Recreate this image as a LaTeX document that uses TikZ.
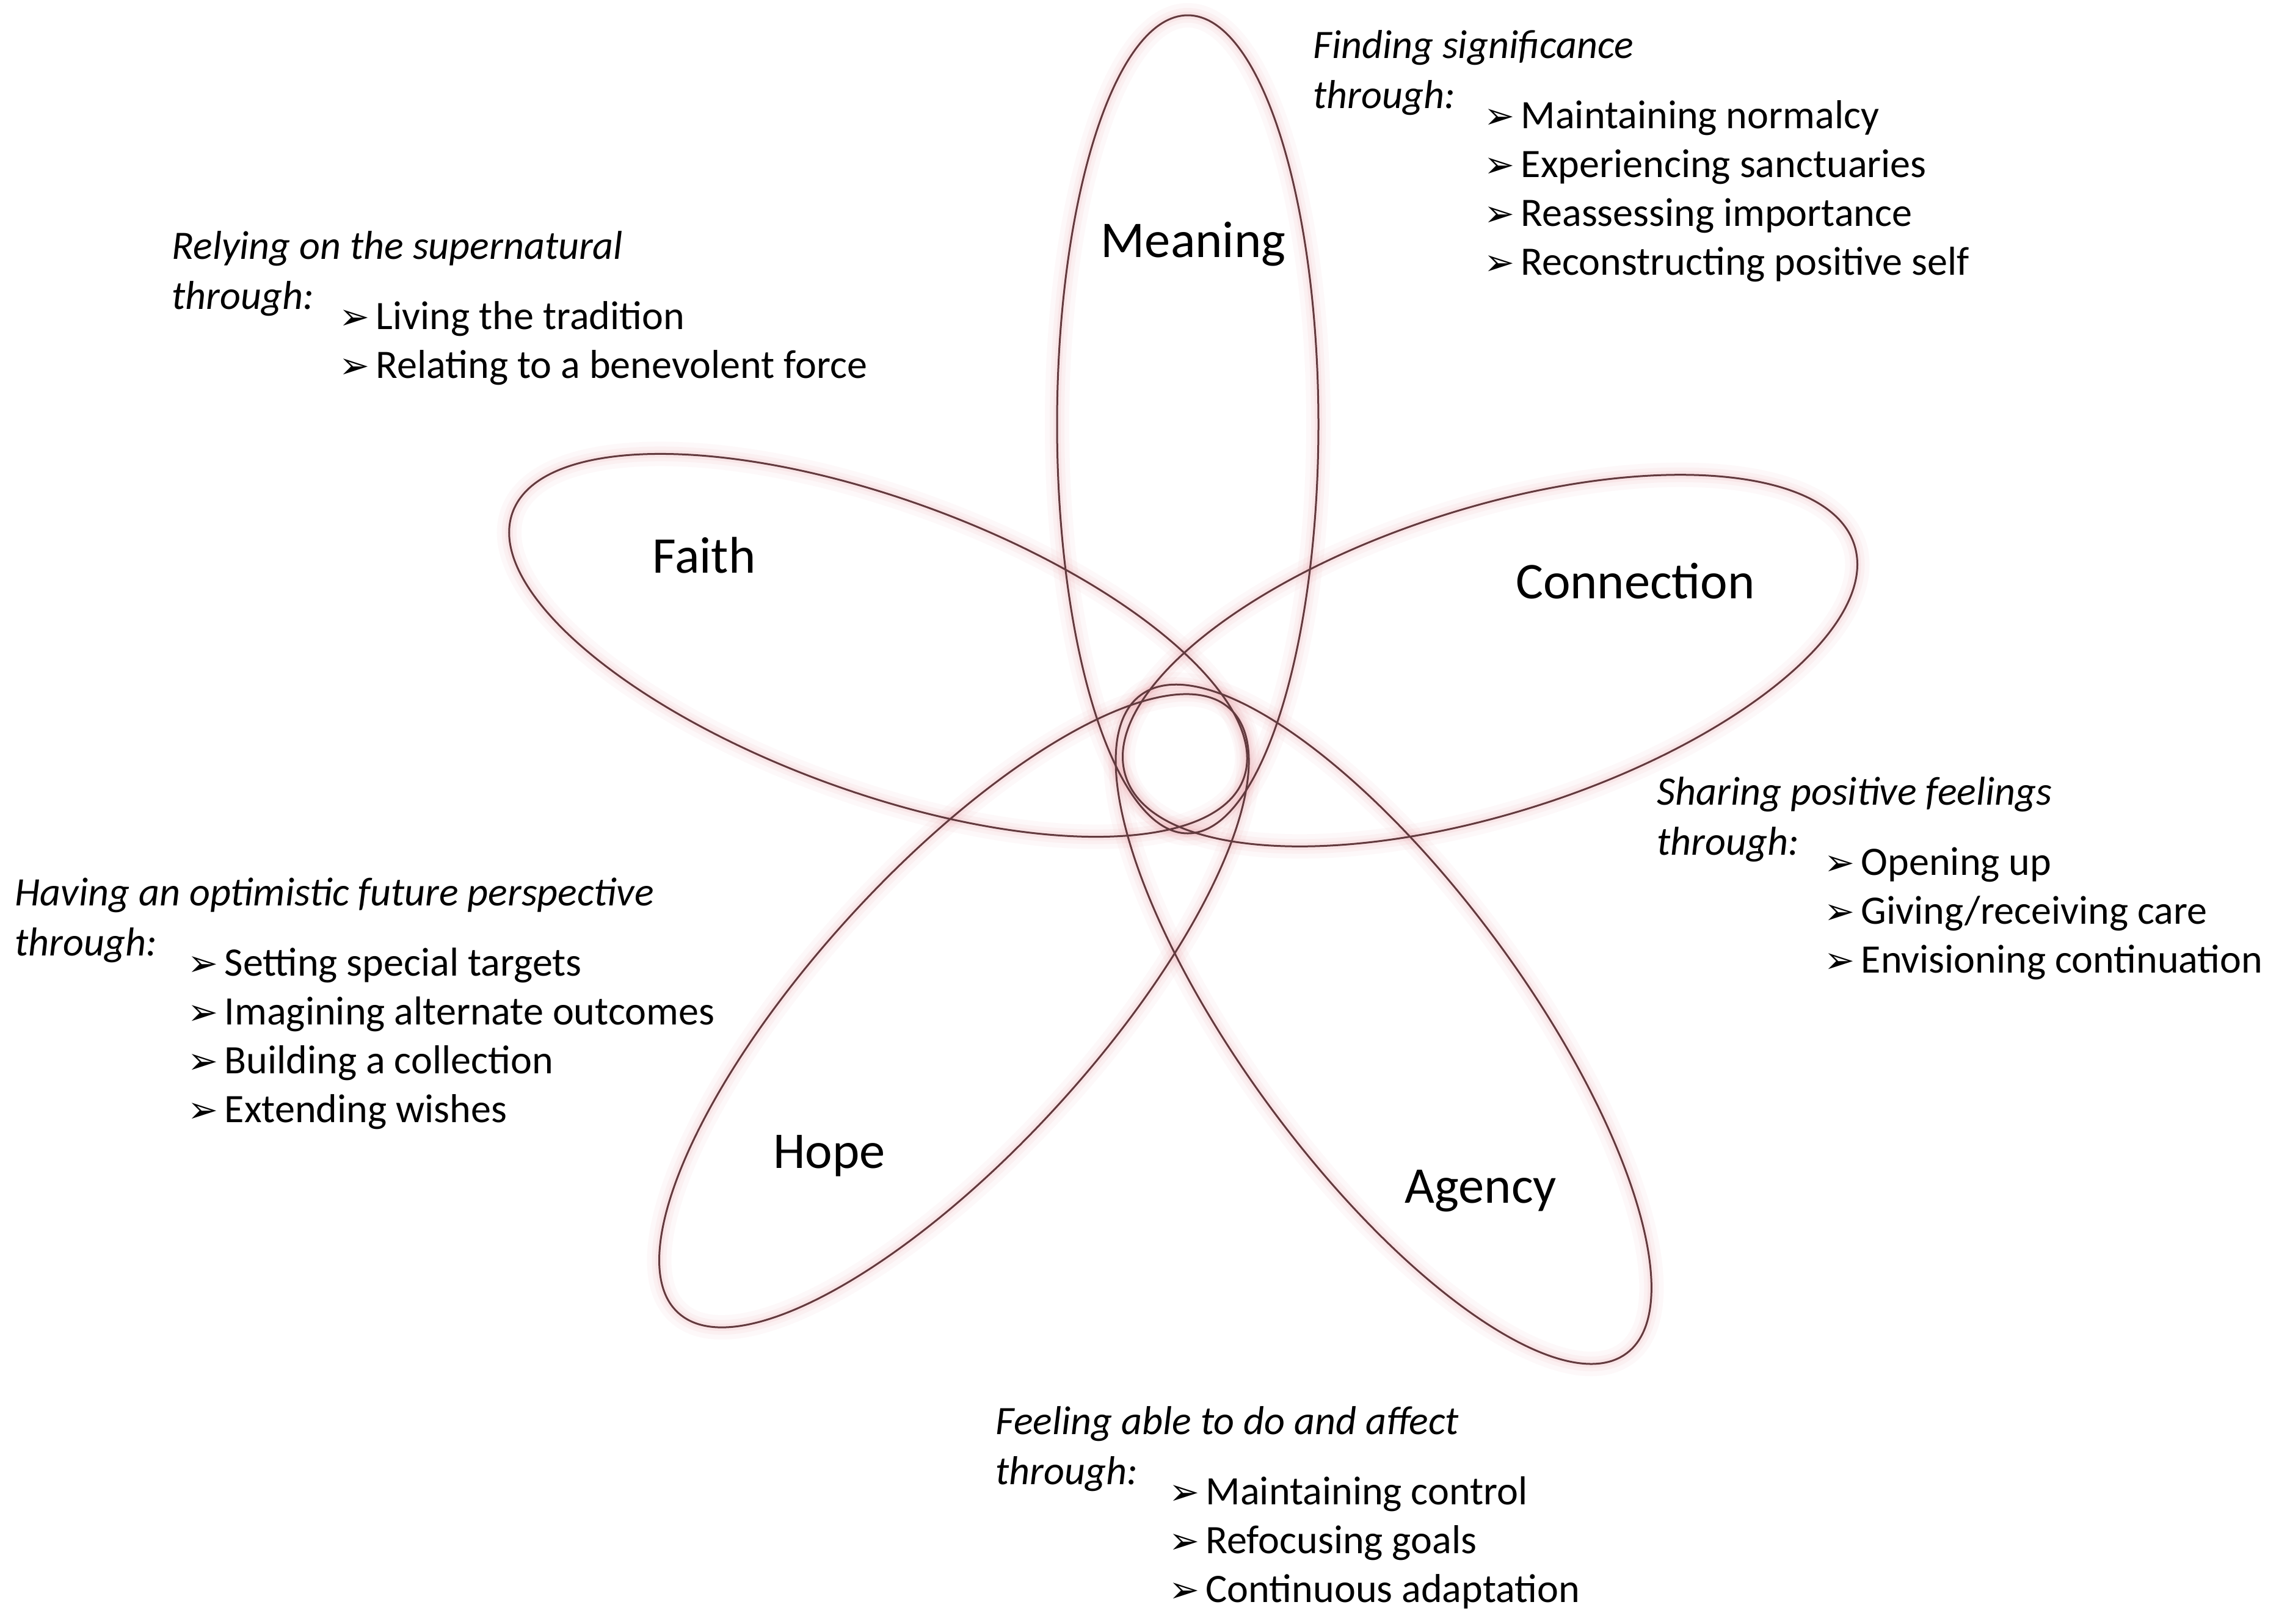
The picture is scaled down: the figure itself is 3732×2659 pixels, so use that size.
\documentclass[tikz,border=0pt]{standalone}
\usepackage{fontspec}
\setmainfont{Carlito}
\newfontfamily\dejavu{DejaVu Sans}
\definecolor{petalline}{RGB}{98,58,62}
\definecolor{petalglow}{RGB}{228,112,122}
\newcommand{\bul}{\makebox[0.6cm][l]{\dejavu\fontsize{17}{17}\selectfont ➢}}
\begin{document}
\begin{tikzpicture}[x=0.01cm,y=-0.01cm,
  petal/.style={draw=petalline, line width=0.03cm},
  glowa/.style={draw=petalglow, line width=0.40cm, draw opacity=0.045},
  glowb/.style={draw=petalglow, line width=0.24cm, draw opacity=0.06},
  glowc/.style={draw=petalglow, line width=0.12cm, draw opacity=0.08},
  plabel/.style={font=\fontsize{24}{29}\selectfont, inner sep=0pt, anchor=base},
  head/.style={font=\fontsize{18.8}{23}\selectfont\itshape, inner sep=0pt, anchor=base west},
  item/.style={font=\fontsize{18.8}{23}\selectfont, inner sep=0pt, anchor=base west}]
\useasboundingbox[fill=white] (0,0) rectangle (3732,2659);
% petals: centre x / centre y / rotation / major radius / minor radius
\foreach \cx/\cy/\ang/\a/\b in {1945/695/90/670/214, 2440/1082/17.6/626/250, 2265.7/1677.6/-53.6/670/230, 1562.3/1655.5/47.6/670/230, 1438/1057/-20/637/240}{
  \path[glowa, rotate around={\ang:(\cx,\cy)}] (\cx,\cy) ellipse [x radius=\a, y radius=\b];
  \path[glowb, rotate around={\ang:(\cx,\cy)}] (\cx,\cy) ellipse [x radius=\a, y radius=\b];
  \path[glowc, rotate around={\ang:(\cx,\cy)}] (\cx,\cy) ellipse [x radius=\a, y radius=\b];
}
\foreach \cx/\cy/\ang/\a/\b in {1945/695/90/670/214, 2440/1082/17.6/626/250, 2265.7/1677.6/-53.6/670/230, 1562.3/1655.5/47.6/670/230, 1438/1057/-20/637/240}{
  \path[petal, rotate around={\ang:(\cx,\cy)}] (\cx,\cy) ellipse [x radius=\a, y radius=\b];
}
% petal labels
\node[plabel] (lmeaning) at (1954,421) {Meaning};
\node[plabel] (lfaith) at (1153,938) {Faith};
\node[plabel] (lconnection) at (2678,980) {Connection};
\node[plabel] (lhope) at (1358,1913) {Hope};
\node[plabel] (lagency) at (2425,1970) {Agency};
% Meaning block
\node[head] (mh1) at (2150,95) {Finding significance};
\node[head] (mh2) at (2150,177) {through:};
\node[item] (mi1) at (2430,210) {\bul Maintaining normalcy};
\node[item] (mi2) at (2430,290) {\bul Experiencing sanctuaries};
\node[item] (mi3) at (2430,370) {\bul Reassessing importance};
\node[item] (mi4) at (2430,450) {\bul Reconstructing positive self};
% Faith block
\node[head] (fh1) at (281,424) {Relying on the supernatural};
\node[head] (fh2) at (281,506) {through:};
\node[item] (fi1) at (555,539) {\bul Living the tradition};
\node[item] (fi2) at (555,619) {\bul Relating to a benevolent force};
% Connection block
\node[head] (ch1) at (2713,1318) {Sharing positive feelings};
\node[head] (ch2) at (2713,1400) {through:};
\node[item] (ci1) at (2987,1433) {\bul Opening up};
\node[item] (ci2) at (2987,1513) {\bul Giving/receiving care};
\node[item] (ci3) at (2987,1593) {\bul Envisioning continuation};
% Hope block
\node[head] (hh1) at (24,1483) {Having an optimistic future perspective};
\node[head] (hh2) at (24,1565) {through:};
\node[item] (hi1) at (307,1598) {\bul Setting special targets};
\node[item] (hi2) at (307,1678) {\bul Imagining alternate outcomes};
\node[item] (hi3) at (307,1758) {\bul Building a collection};
\node[item] (hi4) at (307,1838) {\bul Extending wishes};
% Agency block
\node[head] (ah1) at (1630,2349) {Feeling able to do and affect};
\node[head] (ah2) at (1630,2431) {through:};
\node[item] (ai1) at (1914,2464) {\bul Maintaining control};
\node[item] (ai2) at (1914,2544) {\bul Refocusing goals};
\node[item] (ai3) at (1914,2624) {\bul Continuous adaptation};
\end{tikzpicture}
\end{document}
